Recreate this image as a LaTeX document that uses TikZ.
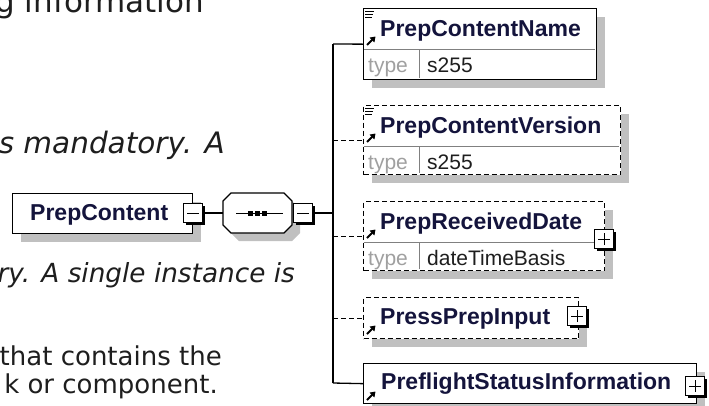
\documentclass[tikz,border=0pt]{standalone}
\usepackage{fontspec}
\setmainfont{Liberation Sans}
\newfontfamily\verd{DejaVu Sans}
\usetikzlibrary{shadows,arrows.meta}
\definecolor{shd}{HTML}{C0C0C0}
\definecolor{nmc}{HTML}{14143C}
\definecolor{txc}{HTML}{1E1E1E}
\definecolor{typec}{HTML}{A0A0A0}
\definecolor{divc}{HTML}{808080}
\tikzset{
  para/.style={inner sep=0pt, text=txc, font=\verd\fontsize{26}{26}\selectfont},
  parai/.style={para, font=\verd\itshape\fontsize{26.3}{26.3}\selectfont},
  paraib/.style={para, font=\verd\itshape\fontsize{29.5}{29.5}\selectfont},
  parah/.style={para, font=\verd\fontsize{31}{31}\selectfont},
  elem/.style={draw=black, line width=1.3pt, fill=white, inner sep=0pt, anchor=north west,
    drop shadow={shadow xshift=8pt, shadow yshift=-8pt, fill=shd, opacity=1}},
  optelem/.style={elem, dash pattern=on 5pt off 3pt},
  nm/.style={inner sep=0pt, anchor=base west, text=nmc, font=\bfseries\fontsize{23}{23}\selectfont},
  typel/.style={inner sep=0pt, anchor=base west, text=typec, font=\fontsize{21}{21}\selectfont},
  typev/.style={inner sep=0pt, anchor=base west, text=txc, font=\fontsize{21}{21}\selectfont},
  divl/.style={draw=divc, line width=1pt},
  pm/.style={draw=black, line width=1pt, fill=white, minimum size=19pt, inner sep=0pt,
    drop shadow={shadow xshift=2.5pt, shadow yshift=-2.5pt, fill=black, opacity=1}},
  conn/.style={draw=black, line width=1.3pt},
  optconn/.style={conn, dash pattern=on 5pt off 3pt},
  refarrow/.style={line width=2pt, -{Triangle[length=5pt,width=6.5pt]}},
  lst/.style={line width=1pt},
  seqline/.style={draw=black, line width=1.3pt, fill=white}
}
\begin{document}
\begin{tikzpicture}[x=1pt,y=-1pt]
\useasboundingbox (0,0) rectangle (709,405);
\clip (0,0) rectangle (709,405);
\fill[white] (0,0) rectangle (709,405);

% background text (cut off at the left)
\node[parah, anchor=base east] (t1) at (204,12) {g information};
\node[paraib, anchor=base east] (t2) at (225,153) {s mandatory. A};
\node[parai, anchor=base east] (t3) at (295,282) {ry. A single instance is};
\node[para, anchor=base east] (t4) at (222,365) {that contains the};
\node[para, anchor=base east] (t5) at (218,393) {k or component.};

% PrepContent element
\node[elem, minimum width=180pt, minimum height=40pt] (pc) at (12,193) {};
\node[nm] (pct) at (30,220) {PrepContent};
\node[pm] (pcm) at (193,213) {};
\draw[lst] ([xshift=-6pt]pcm.center) -- ([xshift=6pt]pcm.center);

% sequence compositor
\fill[shd] (239,201) -- (292,201) -- (300,209) -- (300,233) -- (292,241) -- (239,241) -- (231,233) -- (231,209) -- cycle;
\draw[seqline] (231,193) -- (284,193) -- (292,201) -- (292,225) -- (284,233) -- (231,233) -- (223,225) -- (223,201) -- cycle;
\node[inner sep=0pt, minimum width=69pt, minimum height=40pt] (sq) at (257.5,213) {};
\draw[lst] (236,213) -- (283,213);
\fill (248,210.5) rectangle (253,215.5);
\fill (255,210.5) rectangle (260,215.5);
\fill (262,210.5) rectangle (267,215.5);
\node[pm] (sqm) at (303,213) {};
\draw[lst] ([xshift=-6pt]sqm.center) -- ([xshift=6pt]sqm.center);
\draw[conn] (pcm.east) -- (sq.west);

% child elements
\node[elem, minimum width=233pt, minimum height=71pt] (b1) at (363,8) {};
\node[optelem, minimum width=257pt, minimum height=69pt] (b2) at (363,105) {};
\node[optelem, minimum width=241pt, minimum height=69pt] (b3) at (363,201) {};
\node[optelem, minimum width=215pt, minimum height=41pt] (b4) at (363,297) {};
\node[elem, minimum width=333pt, minimum height=40pt] (b5) at (363,363) {};

% dividers
\draw[divl] (364,49) -- (595,49) (419,49) -- (419,78);
\draw[divl] (364,146) -- (619,146) (419,146) -- (419,173);
\draw[divl] (364,242) -- (603,242) (419,242) -- (419,269);

% names
\node[nm] (n1) at (380,36) {PrepContentName};
\node[typel] (ty1) at (368,72) {type};
\node[typev] (v1) at (427,72) {s255};
\node[nm] (n2) at (380,133) {PrepContentVersion};
\node[typel] (ty2) at (368,169) {type};
\node[typev] (v2) at (427,169) {s255};
\node[nm] (n3) at (380,229) {PrepReceivedDate};
\node[typel] (ty3) at (368,265) {type};
\node[typev] (v3) at (427,265) {dateTimeBasis};
\node[nm] (n4) at (380,324) {PressPrepInput};
\node[nm] (n5) at (381,389) {PreflightStatusInformation};

% list icons
\draw[lst] (365,11) -- (374,11) (365,14) -- (373,14) (365,17) -- (372,17);
\draw[lst] (365,108) -- (374,108) (365,111) -- (373,111) (365,114) -- (372,114);

% reference arrows
\draw[refarrow] (367,45) -- (375.5,36.5);
\draw[refarrow] (367,142) -- (375.5,133.5);
\draw[refarrow] (367,238) -- (375.5,229.5);
\draw[refarrow] (367,334) -- (375.5,325.5);
\draw[refarrow] (367,400) -- (375.5,391.5);

% plus boxes
\node[pm] (p3) at (604,239) {};
\draw[lst] ([xshift=-6pt]p3.center) -- ([xshift=6pt]p3.center) ([yshift=-6pt]p3.center) -- ([yshift=6pt]p3.center);
\node[pm] (p4) at (577,316) {};
\draw[lst] ([xshift=-6pt]p4.center) -- ([xshift=6pt]p4.center) ([yshift=-6pt]p4.center) -- ([yshift=6pt]p4.center);
\node[pm] (p5) at (695,386) {};
\draw[lst] ([xshift=-6pt]p5.center) -- ([xshift=6pt]p5.center) ([yshift=-6pt]p5.center) -- ([yshift=6pt]p5.center);

% connectors
\coordinate (vt) at (333,44);
\coordinate (vb) at (333,383);
\draw[conn] (sqm.east) -- (sqm.east -| vt);
\draw[conn] (vt) -- (vb);
\draw[conn] (vt) -- (b1.west);
\draw[optconn] (b2.west -| vt) -- (b2.west);
\draw[optconn] (b3.west -| vt) -- (b3.west);
\draw[optconn] (b4.west -| vt) -- (b4.west);
\draw[conn] (vb) -- (b5.west);
\end{tikzpicture}
\end{document}
